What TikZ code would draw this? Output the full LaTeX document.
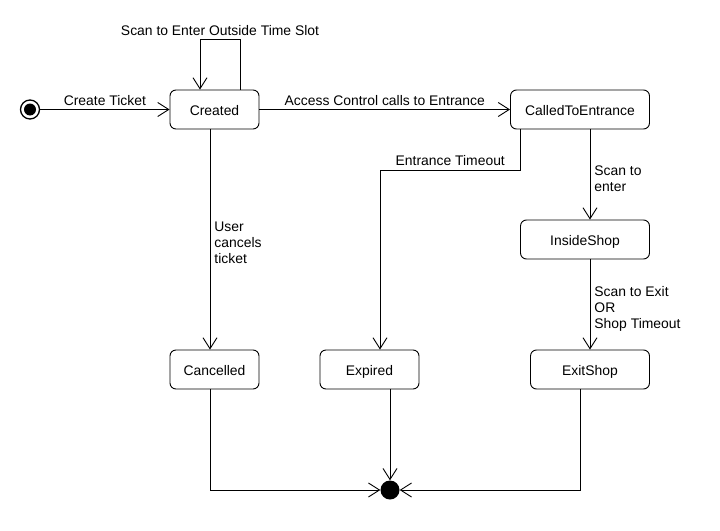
\documentclass[tikz,border=0pt]{standalone}
\usepackage{fontspec}
\setmainfont{Liberation Sans}
\usetikzlibrary{arrows.meta}
\begin{document}
\begin{tikzpicture}[x=1pt,y=-1pt,
  every node/.style={font=\fontsize{13.9}{16}\selectfont},
  state/.style={draw, line width=0.9pt, rounded corners=6pt, minimum height=39pt, inner sep=0pt, text height=11pt, text depth=0pt},
  tr/.style={draw, line width=0.9pt, -{Straight Barb[length=11pt,width=14pt]}},
  lab/.style={anchor=base, yshift=4pt, inner sep=0pt},
  mlab/.style={anchor=north west, align=left, inner sep=0pt, xshift=4pt}]
\useasboundingbox (0,0) rectangle (720,530);
\fill[white] (0,0) rectangle (720,530);
% states
\node[circle, draw, line width=1.3pt, minimum size=19pt, inner sep=0pt] (start) at (30,109.5) {};
\fill (start.center) circle[radius=6pt];
\node[state, minimum width=89pt] (created) at (214.5,109.5) {Created};
\node[state, minimum width=139pt] (cte) at (580,109.5) {CalledToEntrance};
\node[state, minimum width=129pt] (inside) at (585,239.5) {InsideShop};
\node[state, minimum width=89pt] (cancelled) at (214.5,369.5) {Cancelled};
\node[state, minimum width=99pt] (expired) at (369.5,369.5) {Expired};
\node[state, minimum width=119pt] (exitshop) at (590,369.5) {ExitShop};
\node[circle, fill, minimum size=19pt, inner sep=0pt] (final) at (390,490) {};
% transitions
\draw[tr] (start.east) -- node[lab]{Create Ticket} (start.east -| created.west);
\draw[tr] (created.east) -- node[lab]{Access Control calls to Entrance} (cte.west);
\draw[tr] ([xshift=25.5pt]created.north) -- ++(0,-50) -- ++(-20,0)
   node[lab]{Scan to Enter Outside Time Slot} -| ([xshift=-14.5pt]created.north);
\draw[tr] ([xshift=-4.5pt]created.south) -- node[mlab, pos=0.42]{User\\cancels\\ticket} ([xshift=-4.5pt]cancelled.north);
\draw[tr] ([xshift=-59.5pt]cte.south) -- ++(0,41) -| node[pos=0.25, anchor=base, yshift=5pt, inner sep=0pt]{Entrance Timeout} ([xshift=10.5pt]expired.north);
\draw[tr] ([xshift=10pt]cte.south) -- node[mlab, pos=0.396]{Scan to\\enter} ([xshift=5pt]inside.north);
\draw[tr] ([xshift=5pt]inside.south) -- node[mlab, pos=0.297]{Scan to Exit\\OR\\Shop Timeout} (exitshop.north);
\draw[tr] ([xshift=-4.5pt]cancelled.south) |- (final.west);
\draw[tr] ([xshift=20.5pt]expired.south) -- (final.north);
\draw[tr] ([xshift=-9.3pt]exitshop.south) |- (final.east);
\end{tikzpicture}
\end{document}
